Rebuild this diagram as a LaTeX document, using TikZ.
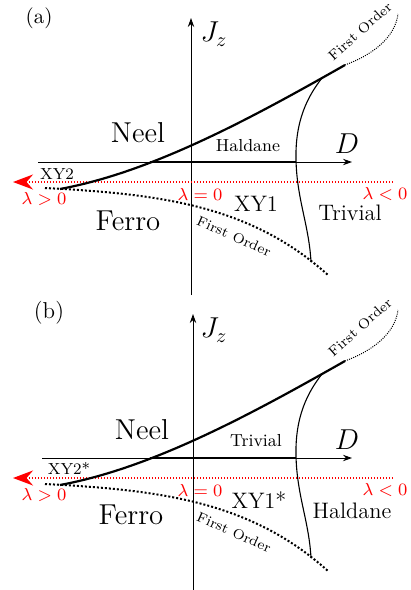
\documentclass[tikz,border=0pt]{standalone}
\usepackage{fix-cm}
\usepackage{fontspec}
\usepackage{amsmath}
\usetikzlibrary{positioning, arrows.meta}
\begin{document}
\begin{tikzpicture}[x=0.5pt, y=-0.5pt]
  % styles
  \tikzset{
    axis/.style={line width=0.5pt, -{Stealth[length=4.5pt, width=3.2pt]}},
    transition/.style={line width=1.1pt},
    first order/.style={line width=1pt, dash pattern=on 1pt off 1pt},
    weak first/.style={line width=0.5pt, dash pattern=on 0.5pt off 0.6pt},
    boundary/.style={line width=0.55pt},
    lambda line/.style={red, line width=0.75pt, dash pattern=on 0.75pt off 0.75pt},
    phase/.style={inner sep=0pt, font=\fontsize{14.4}{17}\selectfont},
    phase mid/.style={inner sep=0pt, font=\fontsize{11.2}{13}\selectfont},
    phase small/.style={inner sep=0pt, font=\fontsize{8.7}{10}\selectfont},
    xy label/.style={inner sep=0pt, font=\fontsize{8}{9}\selectfont},
    lambda label/.style={inner sep=0pt, red, font=\fontsize{8.7}{10}\selectfont},
    fo label/.style={inner sep=0pt, font=\fontsize{7}{8}\selectfont},
  }
  \useasboundingbox (0,0) rectangle (411,590);

  % the two panels share the same skeleton
  \foreach \p/\oy/\xs/\ax in {a/0/38/191, b/296/42/193} {
    \begin{scope}[shift={(0,\oy)}]
      % key points of the phase boundaries
      \coordinate (left\p) at (60,189);
      \coordinate (lowleft\p) at (45,188);
      \coordinate (cross\p) at (150,162);
      \coordinate (top\p) at (345,65);
      \coordinate (far\p) at (398,14);
      \coordinate (kink\p) at (322,78);
      \coordinate (mid\p) at (296,162);
      \coordinate (low\p) at (311,262);
      \coordinate (end\p) at (328,275);

      % axes
      \draw[axis] (\ax,295) -- (\ax,18);
      \node[phase] (Jz\p) at (214,34) {$J_z$};
      \draw[axis] (\xs,162) -- (352,162);
      \node[phase] (D\p) at (347,144) {$D$};

      % lambda = 0 line
      \draw[lambda line, {Stealth[length=10pt, width=7.5pt]}-] (13,182) -- (392,182);
      \node[lambda label] (lpos\p) at (44,199) {$\lambda>0$};
      \node[lambda label] (lzero\p) at (200,194) {$\lambda=0$};
      \node[lambda label] (lneg\p) at (385,194) {$\lambda<0$};

      % phase boundaries
      \draw[transition] (cross\p) -- (mid\p);
      \draw[transition] (left\p) .. controls (152,172) and (250,119) .. (top\p);
      \draw[weak first] (top\p) .. controls (372,55) and (395,38) .. (far\p);
      \draw[first order] (lowleft\p) .. controls (160,194) and (250,205) .. (end\p);
      \draw[boundary] (kink\p) .. controls (308,96) and (295,120) .. (296,160)
        .. controls (297,200) and (309,225) .. (low\p);
      \node[fo label, rotate=41.5] (foup\p) at (360,31) {First Order};
      \node[fo label, rotate=-24] (folow\p) at (234,236) {First Order};
    \end{scope}
  }

  % panel (a)
  \node[inner sep=0pt, font=\fontsize{10.5}{12}\selectfont] (tagA) at (39,18) {(a)};
  \node[phase] (neelA) at (138,133) {Neel};
  \node[phase small] (haldA) at (248,146) {Haldane};
  \node[xy label] (xytwoA) at (57,174) {XY2};
  \node[phase] (ferroA) at (128,221) {Ferro};
  \node[phase mid] (xyoneA) at (256,204) {XY1};
  \node[phase mid] (trivA) at (350,213) {Trivial};

  % panel (b)
  \node[inner sep=0pt, font=\fontsize{11.5}{13}\selectfont] (tagB) at (49,313) {(b)};
  \node[phase] (neelB) at (142,430) {Neel};
  \node[phase small] (trivB) at (256,441) {Trivial};
  \node[xy label] (xytwoB) at (69,468) {XY2*};
  \node[phase] (ferroB) at (131,515) {Ferro};
  \node[phase mid] (xyoneB) at (259,500) {XY1*};
  \node[phase mid] (haldB) at (352,511) {Haldane};
\end{tikzpicture}
\end{document}
